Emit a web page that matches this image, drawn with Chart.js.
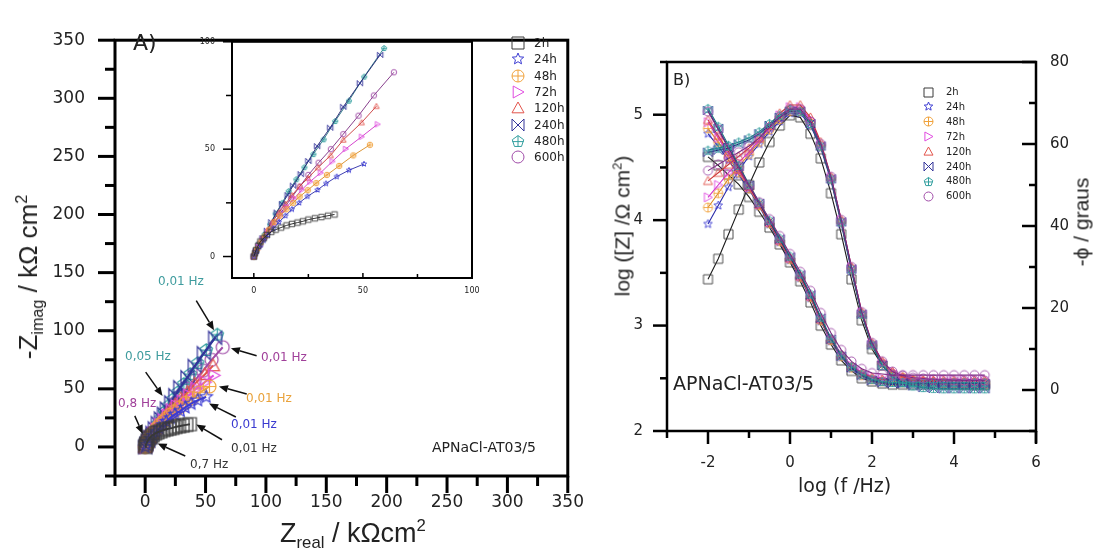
<!DOCTYPE html>
<html lang="pt">
<head>
<meta charset="UTF-8">
<title>APNaCl-AT03/5 - Nyquist e Bode</title>
<script src="https://cdn.jsdelivr.net/npm/chart.js"></script>
<style>
  body { margin: 0; background: #fff; }
  #page { position: relative; width: 1097px; height: 555px; overflow: hidden; background: #fff; }
  canvas { position: absolute; }
  .txt { position: absolute; white-space: nowrap; line-height: 1; color: #222; }
  .lib { font-family: 'Liberation Sans', Arial, sans-serif; }
  .dv { font-family: 'DejaVu Sans', sans-serif; }
  .rot { transform: translate(-50%, -50%) rotate(-90deg); }
  .cy { transform: translateY(-50%); }
  sub, sup { font-size: 62%; position: relative; vertical-align: baseline; }
  sub { top: 0.35em; }
  sup { top: -0.65em; }
</style>
</head>
<body>
<div id="page">
  <canvas id="chartA" width="600" height="555" style="left:0;top:0"></canvas>
  <canvas id="chartInset" width="310" height="290" style="left:180px;top:20px"></canvas>
  <canvas id="chartB" width="497" height="555" style="left:600px;top:0"></canvas>

  <div class="txt lib rot" style="left:28px;top:277px;font-size:26px">-Z<sub>imag</sub> / kΩ cm<sup>2</sup></div>
  <div class="txt lib cy" style="left:280px;top:533px;font-size:27px">Z<sub>real</sub> / kΩcm<sup>2</sup></div>
  <div class="txt dv cy" style="left:133px;top:43px;font-size:22px">A)</div>
  <div class="txt dv cy" style="left:432px;top:447px;font-size:14px">APNaCl-AT03/5</div>

  <div class="txt lib rot" style="left:622px;top:226px;font-size:21px">log ([Z] /Ω cm<sup>2</sup>)</div>
  <div class="txt dv cy" style="left:798px;top:485px;font-size:19px">log (f /Hz)</div>
  <div class="txt lib rot" style="left:1081px;top:222px;font-size:21px">-ϕ / graus</div>
  <div class="txt dv cy" style="left:673px;top:80px;font-size:16px">B)</div>
  <div class="txt dv cy" style="left:673px;top:383px;font-size:19px">APNaCl-AT03/5</div>
</div>

<script>
// ---- series ----
const names = ['2h', '24h', '48h', '72h', '120h', '240h', '480h', '600h'];

// Nyquist, kOhm cm2
const zRe2h   = [0, 0.5, 1, 2, 3, 4.5, 6, 8, 10, 12.5, 15, 17.5, 20, 22.5, 25, 28, 31, 34, 37];
const zIm2h   = [0, 1.5, 3, 5, 7, 8.5, 10, 11.5, 12.5, 13.5, 14.5, 15.2, 15.8, 16.4, 17.2, 17.8, 18.4, 19, 19.6];
const zRe24h  = [0, 1, 2.5, 4.5, 6.5, 9, 11.5, 14.5, 17.5, 20.8, 24.6, 29.2, 33.1, 38, 43.6, 50.5];
const zIm24h  = [0, 2, 4.5, 7.5, 10, 13, 16, 19, 22, 25, 28, 31, 34, 37.2, 40.2, 43.1];
const zRe48h  = [0, 0.5, 1.5, 3, 5, 7, 9.5, 12, 15, 18, 21, 24.7, 28.6, 33.5, 39.1, 45.6, 53.2];
const zIm48h  = [0, 1.5, 3.5, 6.5, 9.5, 12.5, 16, 19, 22, 25, 27.9, 30.9, 34.2, 38, 42.2, 47.1, 52];
const zRe72h  = [0, 0.7, 2, 4, 6.5, 9, 12, 15, 18.5, 22, 25.8, 30.6, 36, 42.1, 49.4, 56.7];
const zIm72h  = [0, 2, 4.5, 8, 11.5, 15, 19, 23, 27, 31.1, 34.9, 39, 44.3, 50.1, 55.8, 61.6];
const zRe120h = [0, 0.5, 1.5, 3.5, 6, 8.5, 11.5, 14.5, 17.5, 21, 24.8, 29.5, 35.2, 41, 49.4, 56.2];
const zIm120h = [0, 1.5, 4, 8, 12, 16, 20.5, 24.5, 28.5, 32.7, 36.5, 41.5, 47.1, 54.3, 62.4, 70];
const zRe240h = [0, 1, 2.5, 4, 6, 8, 10.5, 13, 15.5, 18, 21.5, 25, 29, 35, 41, 48.6, 57.9];
const zIm240h = [0, 2.5, 5.5, 8.5, 12, 16, 20.5, 24.5, 28.6, 33, 38.4, 44.5, 51.4, 60, 69.7, 80.7, 93.9];
const zRe480h = [0, 1.2, 3, 5, 7.5, 10, 13, 16, 19.5, 23.2, 27.3, 32, 37.3, 43.6, 50.6, 59.7];
const zIm480h = [0, 3, 6.5, 10.5, 15, 20, 25, 30.5, 36, 41.6, 47.7, 54.6, 63.1, 72.6, 83.8, 97.1];
const zRe600h = [0, 1, 3, 5, 7.5, 10.5, 13.5, 17, 21, 25, 29.7, 35.3, 41, 48, 55, 64.2];
const zIm600h = [0, 2.5, 5.5, 9, 13, 17.5, 22, 27, 32.5, 38, 43.7, 50, 57, 65.6, 75, 85.8];

// Bode
const logF = [-2, -1.75, -1.5, -1.25, -1, -0.75, -0.5, -0.25, 0, 0.25, 0.5, 0.75, 1, 1.25, 1.5, 1.75, 2, 2.25, 2.5, 2.75, 3, 3.25, 3.5, 3.75, 4, 4.25, 4.5, 4.75];
const logZ2h   = [4.60, 4.52, 4.43, 4.34, 4.22, 4.08, 3.93, 3.77, 3.60, 3.42, 3.22, 3.00, 2.82, 2.67, 2.57, 2.50, 2.47, 2.45, 2.44, 2.44, 2.44, 2.44, 2.44, 2.44, 2.44, 2.44, 2.44, 2.44];
const logZ24h  = [4.82, 4.70, 4.57, 4.43, 4.29, 4.13, 3.96, 3.79, 3.62, 3.45, 3.26, 3.04, 2.85, 2.70, 2.59, 2.52, 2.48, 2.46, 2.46, 2.45, 2.45, 2.45, 2.45, 2.45, 2.45, 2.45, 2.45, 2.45];
const logZ48h  = [4.87, 4.74, 4.60, 4.45, 4.30, 4.14, 3.97, 3.80, 3.63, 3.46, 3.27, 3.05, 2.86, 2.71, 2.60, 2.53, 2.49, 2.47, 2.47, 2.46, 2.46, 2.46, 2.46, 2.46, 2.46, 2.46, 2.46, 2.46];
const logZ72h  = [4.93, 4.78, 4.63, 4.47, 4.31, 4.15, 3.98, 3.81, 3.64, 3.47, 3.28, 3.07, 2.88, 2.73, 2.62, 2.56, 2.52, 2.50, 2.50, 2.49, 2.49, 2.49, 2.49, 2.49, 2.49, 2.49, 2.49, 2.49];
const logZ120h = [4.95, 4.80, 4.65, 4.48, 4.32, 4.15, 3.98, 3.81, 3.64, 3.47, 3.28, 3.06, 2.87, 2.72, 2.61, 2.55, 2.51, 2.49, 2.49, 2.48, 2.48, 2.48, 2.48, 2.48, 2.48, 2.48, 2.48, 2.48];
const logZ240h = [5.04, 4.87, 4.69, 4.51, 4.33, 4.16, 3.99, 3.82, 3.65, 3.48, 3.29, 3.07, 2.87, 2.71, 2.60, 2.53, 2.48, 2.46, 2.45, 2.45, 2.45, 2.45, 2.45, 2.45, 2.45, 2.45, 2.45, 2.45];
const logZ480h = [5.06, 4.89, 4.71, 4.52, 4.34, 4.17, 4.00, 3.83, 3.66, 3.49, 3.30, 3.08, 2.88, 2.72, 2.61, 2.54, 2.49, 2.47, 2.46, 2.46, 2.46, 2.46, 2.46, 2.46, 2.46, 2.46, 2.46, 2.46];
const logZ600h = [5.03, 4.86, 4.68, 4.50, 4.33, 4.17, 4.01, 3.85, 3.68, 3.51, 3.33, 3.12, 2.93, 2.77, 2.66, 2.59, 2.55, 2.54, 2.53, 2.53, 2.53, 2.53, 2.53, 2.53, 2.53, 2.53, 2.53, 2.53];

const phi2h   = [27, 32, 38, 44, 50, 55.5, 60.5, 64.5, 67, 66.5, 62.5, 56.5, 48, 38, 27, 17, 10, 6, 3.5, 2.5, 2, 1.8, 1.6, 1.5, 1.4, 1.3, 1.2, 1.2];
const phi24h  = [40.5, 45, 49.5, 53.5, 57, 60, 63, 65.5, 67.5, 67.5, 64.5, 59, 51, 40.5, 29, 18.5, 11, 6.5, 4, 3, 2.3, 2, 1.8, 1.6, 1.5, 1.4, 1.3, 1.3];
const phi48h  = [44.5, 48, 51.5, 54.5, 57.5, 60.5, 63.5, 66, 68, 68, 65, 59.5, 51.5, 41, 29.5, 18.5, 11, 6.5, 4, 3, 2.3, 2, 1.8, 1.6, 1.5, 1.4, 1.3, 1.3];
const phi72h  = [47, 50, 53, 55.5, 58, 61, 64, 67, 69, 69, 66, 60, 52, 41.5, 30, 19, 11.5, 7, 4.5, 3.2, 2.5, 2.2, 2, 1.8, 1.7, 1.6, 1.5, 1.5];
const phi120h = [51, 53, 55, 57, 59, 61.5, 64.5, 67.5, 69.5, 69.5, 66.5, 60.5, 52, 41.5, 30, 19, 11.5, 7, 4.5, 3.2, 2.5, 2.2, 2, 1.8, 1.7, 1.6, 1.5, 1.5];
const phi240h = [58, 58.5, 59, 60, 61, 62.5, 64.5, 66.5, 68, 68, 65, 59.5, 51.5, 41, 29.5, 18.5, 11, 6, 3.2, 1.8, 1, 0.6, 0.4, 0.3, 0.3, 0.3, 0.3, 0.3];
const phi480h = [58.5, 59, 59.5, 60.5, 61.5, 63, 65, 67, 68.5, 68, 65, 59.5, 51.5, 41, 29.5, 18.5, 11, 6, 3.2, 1.8, 1, 0.6, 0.4, 0.3, 0.3, 0.3, 0.3, 0.3];
const phi600h = [53.5, 55, 56.5, 58, 59.5, 61.5, 64, 66.5, 68.5, 68.5, 65.5, 60, 52, 41.5, 30, 19, 11.5, 7, 4.5, 3.5, 3, 2.8, 2.6, 2.5, 2.4, 2.3, 2.3, 2.3];

// tick values
const ticksA = [-25, 0, 25, 50, 75, 100, 125, 150, 175, 200, 225, 250, 275, 300, 325, 350];
const ticksInset = [0, 25, 50, 75, 100];
const ticksLogF = [-3, -2, -1, 0, 1, 2, 3, 4, 5, 6];
const ticksLogZ = [2, 2.5, 3, 3.5, 4, 4.5, 5, 5.5];
const ticksPhi = [-10, 0, 10, 20, 30, 40, 50, 60, 70, 80];

const nyqRe = [zRe2h, zRe24h, zRe48h, zRe72h, zRe120h, zRe240h, zRe480h, zRe600h];
const nyqIm = [zIm2h, zIm24h, zIm48h, zIm72h, zIm120h, zIm240h, zIm480h, zIm600h];
const bodeZ = [logZ2h, logZ24h, logZ48h, logZ72h, logZ120h, logZ240h, logZ480h, logZ600h];
const bodePhi = [phi2h, phi24h, phi48h, phi72h, phi120h, phi240h, phi480h, phi600h];

// ---- styles ----
const colors = ['#3a3a3a', '#3c3cd2', '#f0a23c', '#e04ce0', '#e2544c', '#34349a', '#35a0a0', '#a04ca8'];
const lineColors = ['#1a1a1a', '#2a2aa8', '#d88a20', '#d030c8', '#c83838', '#22226e', '#1f6f80', '#7a2a80'];
const shapes = ['square', 'star', 'circplus', 'triright', 'triup', 'bowtie', 'pentplus', 'circle'];

const freqLabels = [
  { t: '0,01 Hz', c: '#3f9c9e', x: 158, y: 281 },
  { t: '0,05 Hz', c: '#3f9c9e', x: 125, y: 356 },
  { t: '0,8 Hz', c: '#a0409a', x: 118, y: 403 },
  { t: '0,01 Hz', c: '#a0409a', x: 261, y: 357 },
  { t: '0,01 Hz', c: '#e9a23b', x: 246, y: 398 },
  { t: '0,01 Hz', c: '#3a3ad0', x: 231, y: 424 },
  { t: '0,01 Hz', c: '#333', x: 231, y: 448 },
  { t: '0,7 Hz', c: '#333', x: 190, y: 464 }
];
// arrows in data units of panel A: [from, to]
const arrowsA = [
  [[42.3, 126], [57, 100.5]],
  [[0.4, 64.4], [14.4, 43.9]],
  [[-8.6, 26.7], [-2, 11.1]],
  [[92.3, 78.4], [71, 84.9]],
  [[84.1, 45.5], [61.1, 52.1]],
  [[75.1, 25.8], [52.9, 37.3]],
  [[63.6, 6.2], [42.3, 19.3]],
  [[33.2, -7.8], [10.3, 2.9]]
];

function makeMarker(shape, color, size, lw) {
  const pad = Math.ceil(lw) + 1;
  const s = Math.ceil(size) + pad * 2;
  const c = document.createElement('canvas');
  c.width = s; c.height = s;
  const g = c.getContext('2d');
  g.strokeStyle = color;
  g.lineWidth = lw;
  const m = s / 2, r = size / 2;
  g.beginPath();
  if (shape === 'square') {
    g.rect(m - r, m - r, size, size);
  } else if (shape === 'star') {
    for (let i = 0; i < 10; i++) {
      const a = -Math.PI / 2 + i * Math.PI / 5;
      const rr = i % 2 ? r * 0.45 : r;
      const x = m + rr * Math.cos(a), y = m + rr * Math.sin(a);
      if (i) g.lineTo(x, y); else g.moveTo(x, y);
    }
    g.closePath();
  } else if (shape === 'circplus') {
    g.arc(m, m, r, 0, Math.PI * 2);
    g.moveTo(m - r, m); g.lineTo(m + r, m);
    g.moveTo(m, m - r); g.lineTo(m, m + r);
  } else if (shape === 'triright') {
    g.moveTo(m - r * 0.8, m - r); g.lineTo(m + r, m); g.lineTo(m - r * 0.8, m + r); g.closePath();
  } else if (shape === 'triup') {
    g.moveTo(m, m - r); g.lineTo(m + r, m + r * 0.8); g.lineTo(m - r, m + r * 0.8); g.closePath();
  } else if (shape === 'bowtie') {
    g.moveTo(m - r, m - r); g.lineTo(m + r, m + r); g.lineTo(m + r, m - r); g.lineTo(m - r, m + r); g.closePath();
  } else if (shape === 'pentplus') {
    for (let i = 0; i < 5; i++) {
      const a = -Math.PI / 2 + i * 2 * Math.PI / 5;
      const x = m + r * Math.cos(a), y = m + r * Math.sin(a) + r * 0.1;
      if (i) g.lineTo(x, y); else g.moveTo(x, y);
    }
    g.closePath();
    g.moveTo(m, m - r * 0.9); g.lineTo(m, m + r);
    g.moveTo(m - r * 0.95, m + r * 0.1); g.lineTo(m + r * 0.95, m + r * 0.1);
  } else {
    g.arc(m, m, r, 0, Math.PI * 2);
  }
  g.stroke();
  return c;
}

// frame + tick marks (major = labelled tick)
function decoPlugin(frame, tickSpecs, tail) {
  return {
    id: 'deco',
    afterDraw(chart) {
      const ctx = chart.ctx, a = chart.chartArea;
      ctx.save();
      ctx.strokeStyle = '#000';
      tickSpecs.forEach(t => {
        const sc = chart.scales[t.axis];
        ctx.lineWidth = t.width;
        sc.ticks.forEach(tk => {
          const len = tk.label === '' ? t.minor : t.major;
          const p = sc.getPixelForValue(tk.value);
          ctx.beginPath();
          if (t.side === 'bottom') { ctx.moveTo(p, a.bottom); ctx.lineTo(p, a.bottom + len * t.dir); }
          else if (t.side === 'left') { ctx.moveTo(a.left, p); ctx.lineTo(a.left - len * t.dir, p); }
          else { ctx.moveTo(a.right, p); ctx.lineTo(a.right + len * t.dir, p); }
          ctx.stroke();
        });
      });
      ctx.lineWidth = frame;
      ctx.strokeRect(a.left, a.top, a.right - a.left, a.bottom - a.top);
      if (tail) {
        ctx.beginPath(); ctx.moveTo(a.right, a.bottom); ctx.lineTo(a.right, a.bottom + tail); ctx.stroke();
      }
      ctx.restore();
    }
  };
}

const arrowPlugin = {
  id: 'arrows',
  afterDraw(chart) {
    const xs = chart.scales.x, ys = chart.scales.y, ctx = chart.ctx;
    ctx.save();
    ctx.strokeStyle = '#111'; ctx.fillStyle = '#111'; ctx.lineWidth = 1.5;
    arrowsA.forEach(([f, t]) => {
      const x1 = xs.getPixelForValue(f[0]), y1 = ys.getPixelForValue(f[1]);
      const x2 = xs.getPixelForValue(t[0]), y2 = ys.getPixelForValue(t[1]);
      const ang = Math.atan2(y2 - y1, x2 - x1), L = 9, W = 3.8;
      const bx = x2 - L * Math.cos(ang), by = y2 - L * Math.sin(ang);
      ctx.beginPath(); ctx.moveTo(x1, y1); ctx.lineTo(bx, by); ctx.stroke();
      ctx.beginPath();
      ctx.moveTo(x2, y2);
      ctx.lineTo(bx - W * Math.sin(ang), by + W * Math.cos(ang));
      ctx.lineTo(bx + W * Math.sin(ang), by - W * Math.cos(ang));
      ctx.closePath(); ctx.fill();
    });
    ctx.restore();
  }
};

function axis(o) {
  return {
    type: 'linear', position: o.position, min: o.min, max: o.max, bounds: 'data',
    grid: { display: false, drawTicks: false },
    border: { display: false },
    afterBuildTicks: s => { s.ticks = o.ticks.map(v => ({ value: v })); },
    ticks: {
      autoSkip: false, maxRotation: 0, minRotation: 0, padding: o.pad, color: '#222',
      font: { family: "'DejaVu Sans', sans-serif", size: o.font },
      callback: v => (Math.abs(v / o.every - Math.round(v / o.every)) < 1e-6 ? String(v) : '')
    },
    afterFit: s => { if (s.isHorizontal()) s.height = o.fit; else s.width = o.fit; }
  };
}

const baseOpts = {
  responsive: false, animation: false, events: [], devicePixelRatio: 1,
  plugins: { legend: { display: false }, tooltip: { enabled: false } }
};

// Panel A
new Chart(document.getElementById('chartA'), {
  type: 'scatter',
  data: {
    datasets: names.map((n, i) => ({
      label: n,
      data: nyqRe[i].map((x, k) => ({ x: x, y: nyqIm[i][k] })),
      showLine: true, borderColor: colors[i], borderWidth: 2,
      pointStyle: makeMarker(shapes[i], colors[i], 13, 1.2), pointRadius: 6
    }))
  },
  options: Object.assign({}, baseOpts, {
    layout: { padding: { left: 0, top: 16, right: 28, bottom: 0 }, autoPadding: false },
    scales: {
      x: axis({ position: 'bottom', min: -25, max: 350, ticks: ticksA, every: 50, pad: 16, font: 17, fit: 79 }),
      y: axis({ position: 'left', min: -25, max: 350, ticks: ticksA, every: 50, pad: 30, font: 17, fit: 115 })
    }
  }),
  plugins: [decoPlugin(3, [
    { axis: 'x', side: 'bottom', dir: 1, major: 17, minor: 10, width: 3 },
    { axis: 'y', side: 'left', dir: 1, major: 17, minor: 10, width: 3 }
  ]), arrowPlugin]
});

// Inset of panel A
new Chart(document.getElementById('chartInset'), {
  type: 'scatter',
  data: {
    datasets: names.map((n, i) => ({
      label: n,
      data: nyqRe[i].map((x, k) => ({ x: x, y: nyqIm[i][k] })),
      showLine: true, borderColor: lineColors[i], borderWidth: 0.9,
      pointStyle: makeMarker(shapes[i], colors[i], 5.5, 0.9), pointRadius: 3
    }))
  },
  options: Object.assign({}, baseOpts, {
    layout: { padding: { left: 0, top: 17, right: 18, bottom: 0 }, autoPadding: false },
    scales: {
      x: axis({ position: 'bottom', min: -10, max: 100, ticks: ticksInset, every: 50, pad: 8, font: 8, fit: 32 }),
      y: axis({ position: 'left', min: -10, max: 100, ticks: ticksInset, every: 50, pad: 17, font: 8, fit: 52 })
    }
  }),
  plugins: [decoPlugin(2, [
    { axis: 'x', side: 'bottom', dir: -1, major: 5, minor: 4, width: 1.5 },
    { axis: 'y', side: 'left', dir: 1, major: 9, minor: 6, width: 1.5 }
  ])]
});

// Panel B
const bodeSets = [];
names.forEach((n, i) => {
  const mk = makeMarker(shapes[i], colors[i], 9, 0.9);
  bodeSets.push({
    label: n + ' |Z|', yAxisID: 'y', order: names.length - i,
    data: logF.map((f, k) => ({ x: f, y: bodeZ[i][k] })),
    showLine: true, borderColor: lineColors[i], borderWidth: 1.1, pointStyle: mk, pointRadius: 4
  });
  bodeSets.push({
    label: n + ' phase', yAxisID: 'y2', order: names.length - i,
    data: logF.map((f, k) => ({ x: f, y: bodePhi[i][k] })),
    showLine: true, borderColor: lineColors[i], borderWidth: 1.1, pointStyle: mk, pointRadius: 4
  });
});

new Chart(document.getElementById('chartB'), {
  type: 'scatter',
  data: { datasets: bodeSets },
  options: Object.assign({}, baseOpts, {
    layout: { padding: { left: 0, top: 62, right: 0, bottom: 0 }, autoPadding: false },
    scales: {
      x: axis({ position: 'bottom', min: -3, max: 6, ticks: ticksLogF, every: 2, pad: 23, font: 15, fit: 124 }),
      y: axis({ position: 'left', min: 2, max: 5.5, ticks: ticksLogZ, every: 1, pad: 24, font: 15, fit: 67 }),
      y2: axis({ position: 'right', min: -10, max: 80, ticks: ticksPhi, every: 20, pad: 14, font: 15, fit: 61 })
    }
  }),
  plugins: [decoPlugin(2.5, [
    { axis: 'x', side: 'bottom', dir: 1, major: 13, minor: 7, width: 2.5 },
    { axis: 'y', side: 'left', dir: 1, major: 14, minor: 7, width: 2.5 },
    { axis: 'y2', side: 'right', dir: -1, major: 14, minor: 7, width: 2.5 }
  ], 12)]
});

// ---- HTML legends and frequency labels ----
const page = document.getElementById('page');
function addLegend(symX, textX, y0, step, size, fontSize) {
  names.forEach((n, i) => {
    const cy = y0 + i * step;
    const mk = makeMarker(shapes[i], colors[i], size, 1);
    mk.style.left = (symX - mk.width / 2) + 'px';
    mk.style.top = (cy - mk.height / 2) + 'px';
    page.appendChild(mk);
    const t = document.createElement('div');
    t.className = 'txt dv cy';
    t.style.left = textX + 'px';
    t.style.top = cy + 'px';
    t.style.fontSize = fontSize + 'px';
    t.textContent = n;
    page.appendChild(t);
  });
}
addLegend(518, 534, 43, 16.3, 12, 12);
addLegend(928, 946, 92, 14.9, 9, 10);

freqLabels.forEach(l => {
  const t = document.createElement('div');
  t.className = 'txt dv cy';
  t.style.left = l.x + 'px';
  t.style.top = l.y + 'px';
  t.style.fontSize = '12px';
  t.style.color = l.c;
  t.textContent = l.t;
  page.appendChild(t);
});
</script>
</body>
</html>
